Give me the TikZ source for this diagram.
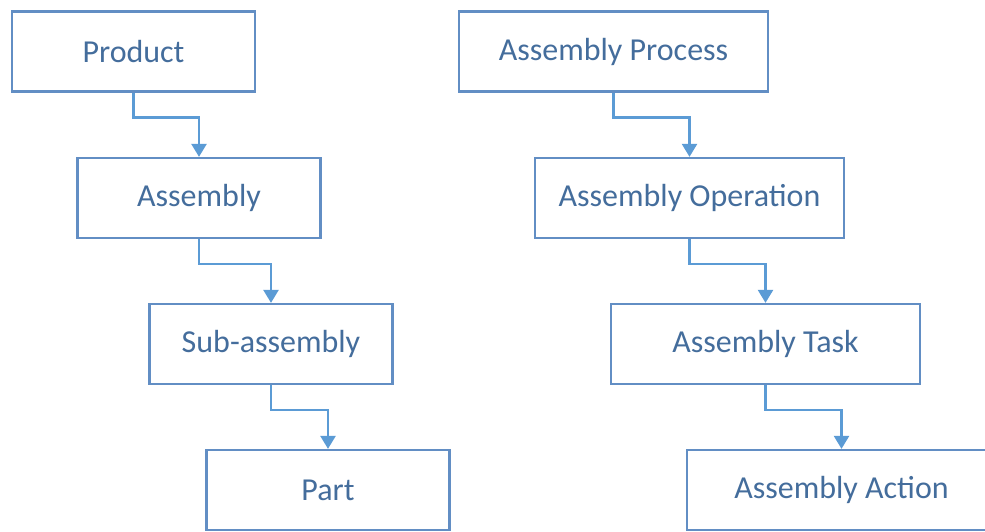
\documentclass[tikz,border=0pt]{standalone}
\usepackage{fontspec}
\setmainfont{Carlito}
\usetikzlibrary{positioning}
\usetikzlibrary{arrows.meta}
\definecolor{boxline}{RGB}{98,142,196}
\definecolor{linkline}{RGB}{91,155,213}
\definecolor{labeltext}{RGB}{68,109,156}

\begin{document}
\begin{tikzpicture}[
    every node/.style={font=\fontsize{18.2}{21}\selectfont, text=labeltext},
    level/.style={draw=boxline, line width=1.3pt, fill=white, inner sep=0pt, minimum height=1.6cm},
    link/.style={draw=linkline, line width=1.4pt, -{Triangle[width=0.3cm,length=0.26cm]}}]
    \useasboundingbox (0,0) rectangle (19.7,-10.62);
    % product side
    \foreach \name/\x/\y/\lab in {prod/2.67/-1.03/Product, asm/3.98/-3.96/Assembly, sub/5.42/-6.88/Sub-assembly, part/6.56/-9.8/Part} {
        \node[level, minimum width=4.86cm] (\name) at (\x, \y) {\lab};
    }
    % process side
    \foreach \name/\x/\y/\lab in {proc/12.27/-1.03/Assembly Process, oper/13.79/-3.96/Assembly Operation, task/15.31/-6.88/Assembly Task, act/16.83/-9.8/Assembly Action} {
        \node[level, minimum width=6.18cm] (\name) at (\x, \y) {\lab};
    }
    % elbow links, one level down each
    \foreach \a/\b in {prod/asm, asm/sub, sub/part, proc/oper, oper/task, task/act} {
        \draw[link] (\a.south) -- ++(0,-0.5) -| (\b.north);
    }
\end{tikzpicture}
\end{document}
